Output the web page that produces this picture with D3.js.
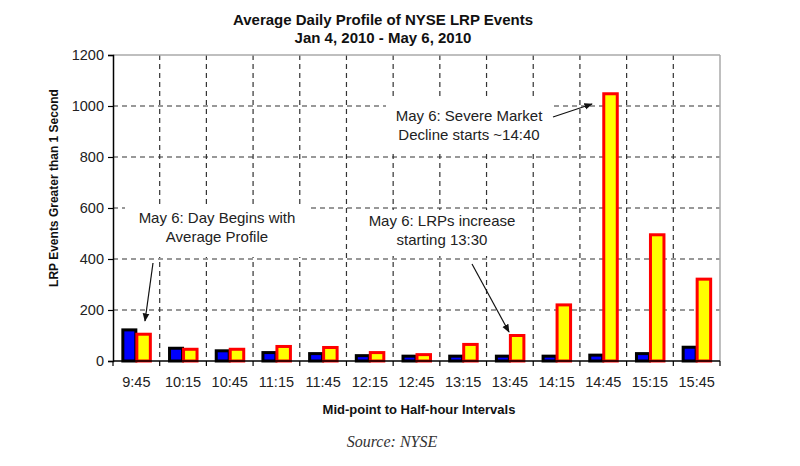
<!DOCTYPE html>
<html><head><meta charset="utf-8">
<script src="https://cdn.jsdelivr.net/npm/d3@7"></script>
<style>body{margin:0;background:#fff}svg{display:block}</style>
</head><body>
<svg id="c" width="800" height="466"></svg>
<script>
const categories = ["9:45","10:15","10:45","11:15","11:45","12:15","12:45","13:15","13:45","14:15","14:45","15:15","15:45"];
const averageValues = [122, 50, 40, 33, 29, 21, 19, 19, 19, 19, 23, 29, 54];
const may6Values = [105, 46, 46, 57, 53, 33, 25, 65, 100, 220, 1048, 495, 321];
const yTicks = [0, 200, 400, 600, 800, 1000, 1200];

const svg = d3.select("#c");
const L = 113, R = 720, T = 55, B = 361;
const x = d3.scaleBand().domain(categories).range([L, R]).padding(0);
const y = d3.scaleLinear().domain([0, 1200]).range([B, T]);
const font = "'Liberation Sans', Arial, sans-serif";
const bw = x.bandwidth();

// gridlines
const g = svg.append("g");
g.selectAll(".hg").data(yTicks.filter(d => d > 0 && d < 1200)).join("line")
  .attr("x1", L).attr("x2", R).attr("y1", d => y(d)).attr("y2", d => y(d))
  .attr("stroke", "#333").attr("stroke-width", 1.2).attr("stroke-dasharray", "5,4");
g.selectAll(".vg").data(categories.slice(1)).join("line")
  .attr("x1", d => x(d)).attr("x2", d => x(d)).attr("y1", T).attr("y2", B)
  .attr("stroke", "#333").attr("stroke-width", 1.2).attr("stroke-dasharray", "5,4");

// top/right border
svg.append("line").attr("x1", L).attr("x2", R).attr("y1", y(1200)).attr("y2", y(1200)).attr("stroke", "#aaa").attr("stroke-width", 1.5);
svg.append("line").attr("x1", R).attr("x2", R).attr("y1", T).attr("y2", B).attr("stroke", "#aaa").attr("stroke-width", 1.5);

// annotation boxes (white)
const boxes = [[125, 206, 182, 51], [362, 210, 168, 46], [386, 99, 166, 53]];
svg.selectAll(".bx").data(boxes).join("rect")
  .attr("x", d => d[0]).attr("y", d => d[1]).attr("width", d => d[2]).attr("height", d => d[3]).attr("fill", "#fff");

// bars
svg.selectAll(".avg").data(categories).join("rect")
  .attr("x", d => x(d) + bw / 2 - 13.5).attr("width", 13)
  .attr("y", (d, i) => y(averageValues[i])).attr("height", (d, i) => B - y(averageValues[i]))
  .attr("fill", "#0000ff").attr("stroke", "#000").attr("stroke-width", 3);
svg.selectAll(".may").data(categories).join("rect")
  .attr("x", d => x(d) + bw / 2 + 0.5).attr("width", 13.5)
  .attr("y", (d, i) => y(may6Values[i])).attr("height", (d, i) => B - y(may6Values[i]))
  .attr("fill", "#ffff00").attr("stroke", "#ff0000").attr("stroke-width", 3);

// axes
const yAxis = d3.axisLeft(y).tickValues(yTicks).tickFormat(d3.format("d")).tickSize(5).tickPadding(4);
const ya = svg.append("g").attr("transform", `translate(${L},0)`).call(yAxis);
ya.select(".domain").attr("stroke", "#000").attr("stroke-width", 1.5);
ya.selectAll(".tick line").attr("stroke", "#000").attr("stroke-width", 1.2);
ya.selectAll("text").attr("font-family", font).attr("font-size", 14.5).attr("fill", "#222");

const xAxis = d3.axisBottom(x).tickSize(0).tickPadding(16);
const xa = svg.append("g").attr("transform", `translate(0,${B})`).call(xAxis);
xa.select(".domain").remove();
xa.selectAll("text").attr("font-family", font).attr("font-size", 14.5).attr("fill", "#222");
svg.append("line").attr("x1", L).attr("x2", R).attr("y1", B).attr("y2", B).attr("stroke", "#000").attr("stroke-width", 1.5);
svg.selectAll(".xt").data(categories.concat(["__end"])).join("line")
  .attr("x1", (d, i) => L + i * bw).attr("x2", (d, i) => L + i * bw)
  .attr("y1", B).attr("y2", B + 5).attr("stroke", "#000").attr("stroke-width", 1.2);

// titles
svg.append("text").attr("x", 383).attr("y", 25).attr("text-anchor", "middle")
  .attr("font-family", font).attr("font-weight", "bold").attr("font-size", 15).attr("fill", "#111")
  .text("Average Daily Profile of NYSE LRP Events");
svg.append("text").attr("x", 383).attr("y", 43).attr("text-anchor", "middle")
  .attr("font-family", font).attr("font-weight", "bold").attr("font-size", 15).attr("fill", "#111")
  .text("Jan 4, 2010 - May 6, 2010");
svg.append("text").attr("transform", "translate(58,188) rotate(-90)").attr("text-anchor", "middle")
  .attr("font-family", font).attr("font-weight", "bold").attr("font-size", 12).attr("fill", "#111")
  .text("LRP Events Greater than 1 Second");
svg.append("text").attr("x", 419).attr("y", 414).attr("text-anchor", "middle")
  .attr("font-family", font).attr("font-weight", "bold").attr("font-size", 13).attr("fill", "#111")
  .text("Mid-point to Half-hour Intervals");
svg.append("text").attr("x", 392).attr("y", 447).attr("text-anchor", "middle")
  .attr("font-family", "'Liberation Serif', 'DejaVu Serif', serif").attr("font-style", "italic").attr("font-size", 16).attr("fill", "#333")
  .text("Source:  NYSE");

// annotations
const notes = [
  {x: 217, y: [223, 242], t: ["May 6: Day Begins with", "Average Profile"], a: [153, 263, 145, 321]},
  {x: 442, y: [226, 245], t: ["May 6: LRPs increase", "starting 13:30"], a: [472, 264, 509, 332]},
  {x: 469, y: [121, 140], t: ["May 6: Severe Market", "Decline starts ~14:40"], a: [553, 117, 592, 104]}
];
svg.append("defs").append("marker").attr("id", "ah").attr("viewBox", "0 0 10 10")
  .attr("refX", 9).attr("refY", 5).attr("markerWidth", 7).attr("markerHeight", 7).attr("orient", "auto")
  .append("path").attr("d", "M0,1 L10,5 L0,9 Z").attr("fill", "#111");
notes.forEach(n => {
  n.t.forEach((s, i) => svg.append("text").attr("x", n.x).attr("y", n.y[i]).attr("text-anchor", "middle")
    .attr("font-family", font).attr("font-size", 15).attr("fill", "#222").text(s));
  svg.append("line").attr("x1", n.a[0]).attr("y1", n.a[1]).attr("x2", n.a[2]).attr("y2", n.a[3])
    .attr("stroke", "#111").attr("stroke-width", 1.2).attr("marker-end", "url(#ah)");
});
</script>
</body></html>
